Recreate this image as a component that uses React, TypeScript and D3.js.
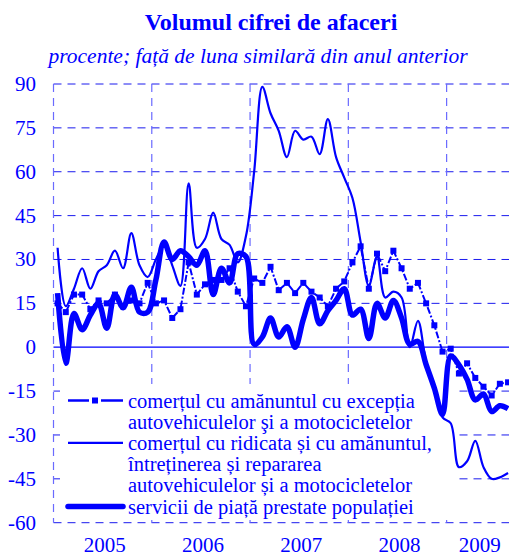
import React from "react";
import * as d3 from "d3";

const years = ["2005", "2006", "2007", "2008", "2009"];
const monthsInYear = [12, 12, 12, 12, 8];
const yTicks = [90, 75, 60, 45, 30, 15, 0, -15, -30, -45, -60];

// comertul cu amanuntul cu exceptia autovehiculelor
const retailExAuto = [
  15, 12, 18, 18, 13, 16, 15, 18, 14, 16, 15, 22,
  15, 16, 10, 13, 29, 18, 21.5, 23, 23, 27, 19, 14,
  23.5, 22, 27.5, 19.5, 22, 18.5, 22, 19, 17, 14, 20, 22.5,
  29, 34.5, 20, 32, 26, 33, 27, 20, 22, 15, 7.5, -1.5,
  -0.5, -9, -5.5, -10.5, -13.5, -16.5, -12.5, -12,
];

// comertul cu ridicata si cu amanuntul, intretinerea si repararea autovehiculelor
const wholesaleRetailAuto = [
  34, 14, 20, 27, 20, 26, 28, 33, 27, 39, 28, 24,
  30, 35, 28, 21, 56, 34, 37, 46, 37, 35, 29, 38,
  60, 89, 80, 74, 65, 74, 71, 72, 66, 78, 65, 58,
  51, 36, 21, 31, 17, 19, 17, 0, 9, -5, -13, -24,
  -26, -41, -39, -32, -41, -45, -44.5, -43,
];

// servicii de piata prestate populatiei
const marketServices = [
  18.5, -5.5, 11.5, 6, 11, 15, 6.5, 18, 13.5, 20.5, 12, 12,
  23, 36, 30, 33, 31, 28, 33, 18, 27, 22, 32, 31,
  1, 3.5, 10, 3.5, 7, 0, 9.5, 17, 8, 12.5, 16, 20,
  11, 13, 3, 15, 10, 16, 10, 1, 2, -6, -14, -23,
  -3, -6, -11, -18, -16, -22, -20, -21,
];

const legendLabels = [
  ["comerțul cu amănuntul cu excepția", "autovehiculelor şi a motocicletelor"],
  ["comerțul cu ridicata și cu amănuntul,", "întreținerea și repararea", "autovehiculelor și a motocicletelor"],
  ["servicii de piață prestate populației"],
];

const BLUE = "#0000ff";
const FONT = "'Liberation Serif', 'Times New Roman', serif";

export default function App() {
  const width = 509;
  const height = 557;
  const totalMonths = d3.sum(monthsInYear);
  const monthW = 8.19;
  const left = 53.5;

  const x = d3.scaleLinear().domain([0, totalMonths]).range([left, left + totalMonths * monthW]);
  const y = d3.scaleLinear().domain([-60, 90]).range([522.7, 84]);

  const yearStarts = monthsInYear.map((_, i) => d3.sum(monthsInYear.slice(0, i)));

  const smooth = d3
    .line<number>()
    .x((_, i) => x(i + 0.5))
    .y((d) => y(d))
    .curve(d3.curveCatmullRom.alpha(0.5));
  const straight = d3
    .line<number>()
    .x((_, i) => x(i + 0.5))
    .y((d) => y(d));

  // legend rows
  const rowH = 21.2;
  const firstBase = 407.5;
  let row = 0;
  const legendRows = legendLabels.map((lines) => {
    const start = row;
    row += lines.length;
    return { lines, start };
  });

  return (
    <svg
      width={width}
      height={height}
      style={{ position: "absolute", left: 0, top: 0, background: "#fff" }}
      fontFamily={FONT}
    >
      <text x={271} y={30} textAnchor="middle" fontSize={24} fontWeight="bold" fill={BLUE}>
        Volumul cifrei de afaceri
      </text>
      <text x={258} y={63} textAnchor="middle" fontSize={21.5} fontStyle="italic" fill={BLUE}>
        procente; față de luna similară din anul anterior
      </text>

      {/* horizontal grid */}
      {yTicks
        .filter((t) => t !== 0)
        .map((t) => (
          <line
            key={"h" + t}
            x1={left}
            x2={width}
            y1={y(t)}
            y2={y(t)}
            stroke="#1a1aee"
            strokeWidth={1}
            strokeDasharray="8,6"
          />
        ))}
      {/* vertical year grid */}
      {yearStarts.map((s) => (
        <line
          key={"v" + s}
          x1={x(s)}
          x2={x(s)}
          y1={y(90)}
          y2={y(-60)}
          stroke="#6a6aff"
          strokeWidth={1.2}
          strokeDasharray="8,6"
        />
      ))}

      {/* legend backdrop hides grid */}
      <rect x={60} y={384} width={397} height={136} fill="#fff" />

      <line x1={left} x2={width} y1={y(0)} y2={y(0)} stroke={BLUE} strokeWidth={1.2} />

      {/* y labels */}
      {yTicks.map((t) => (
        <text key={"yl" + t} x={36} y={y(t) + 7} textAnchor="end" fontSize={21} fill={BLUE}>
          {t}
        </text>
      ))}
      {/* x labels */}
      {years.map((yr, i) => (
        <text
          key={yr}
          x={(x(yearStarts[i]) + Math.min(x(yearStarts[i] + monthsInYear[i]), width)) / 2 + 2}
          y={552}
          textAnchor="middle"
          fontSize={21}
          fill={BLUE}
        >
          {yr}
        </text>
      ))}

      {/* series */}
      <path d={smooth(wholesaleRetailAuto) ?? ""} fill="none" stroke={BLUE} strokeWidth={2.2} />
      <path d={smooth(marketServices) ?? ""} fill="none" stroke={BLUE} strokeWidth={5.5} />
      <path d={straight(retailExAuto) ?? ""} fill="none" stroke={BLUE} strokeWidth={2} strokeDasharray="7,2,2,2" />
      {retailExAuto.map((v, i) => (
        <rect key={"m" + i} x={x(i + 0.5) - 3} y={y(v) - 3} width={6} height={6} fill={BLUE} />
      ))}

      {/* legend */}
      {legendRows.map((r, k) => {
        const sy = firstBase + r.start * rowH - 7;
        return (
          <g key={"lg" + k}>
            {k === 0 && (
              <g>
                <line x1={68} x2={89} y1={sy} y2={sy} stroke={BLUE} strokeWidth={2.5} />
                <rect x={92} y={sy - 3} width={6} height={6} fill={BLUE} />
                <line x1={101} x2={123} y1={sy} y2={sy} stroke={BLUE} strokeWidth={2.5} />
              </g>
            )}
            {k === 1 && <line x1={68} x2={123} y1={sy} y2={sy} stroke={BLUE} strokeWidth={2.2} />}
            {k === 2 && (
              <line x1={68} x2={123} y1={sy} y2={sy} stroke={BLUE} strokeWidth={5.5} strokeLinecap="round" />
            )}
            {r.lines.map((ln, j) => (
              <text key={j} x={128} y={firstBase + (r.start + j) * rowH} fontSize={20.5} fill={BLUE}>
                {ln}
              </text>
            ))}
          </g>
        );
      })}
    </svg>
  );
}
